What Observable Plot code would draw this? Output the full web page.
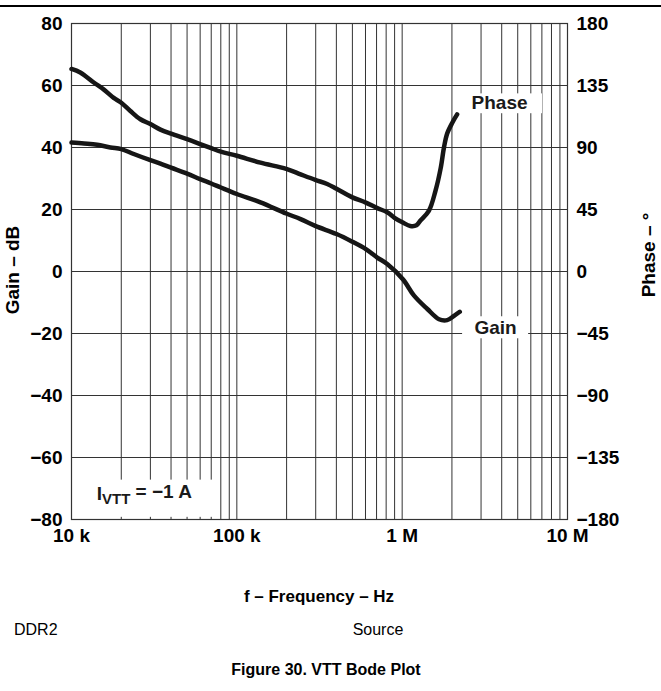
<!DOCTYPE html>
<html><head><meta charset="utf-8">
<script src="https://cdn.jsdelivr.net/npm/d3@7"></script>
<script src="https://cdn.jsdelivr.net/npm/@observablehq/plot@0.6"></script>
<style>
body{margin:0;background:#fff;font-family:"Liberation Sans",Arial,sans-serif;color:#000;}
#wrap{position:relative;width:661px;height:691px;overflow:hidden;background:#fff;}
#rule{position:absolute;left:0;top:5px;width:661px;height:1.5px;background:#000;z-index:2;}
#chart{position:absolute;left:0;top:0;}
.t{position:absolute;white-space:nowrap;line-height:1;}
#ytitle{left:12px;top:270px;transform:translate(-50%,-50%) rotate(-90deg);font-weight:bold;font-size:19px;}
#y2title{left:648px;top:255px;transform:translate(-50%,-50%) rotate(-90deg);font-weight:bold;font-size:19px;}
#xlabel{left:319px;top:596px;transform:translate(-50%,-50%);font-weight:bold;font-size:17px;}
#ddr2{left:14px;top:630px;transform:translate(0,-50%);font-size:16px;}
#source{left:378px;top:630px;transform:translate(-50%,-50%);font-size:16px;}
#caption{left:326px;top:670px;transform:translate(-50%,-50%);font-weight:bold;font-size:16px;}
</style></head><body>
<div id="wrap">
<div id="chart"></div>
<div id="rule"></div>
<div class="t" id="ytitle">Gain – dB</div>
<div class="t" id="y2title">Phase – °</div>
<div class="t" id="xlabel">f – Frequency – Hz</div>
<div class="t" id="ddr2">DDR2</div>
<div class="t" id="source">Source</div>
<div class="t" id="caption">Figure 30. VTT Bode Plot</div>
</div>
<script>
// Gain curve (dB)
const gainFreq = [10e3, 11.9e3, 14.3e3, 17.2e3, 20e3, 23.8e3, 30e3, 34.5e3, 40e3, 50e3, 60e3, 70e3, 80e3, 100e3, 139e3, 199e3, 243e3, 298e3, 401e3, 496e3, 603e3, 707e3, 812e3, 1.01e6, 1.18e6, 1.42e6, 1.67e6, 1.87e6, 2.06e6, 2.23e6];
const gainDb   = [41.6, 41.3, 40.9, 40.0, 39.5, 37.9, 35.9, 34.8, 33.5, 31.6, 29.8, 28.4, 27.1, 25.0, 22.3, 18.7, 16.9, 14.7, 12.1, 9.7, 7.2, 4.5, 2.4, -2.5, -7.8, -12.1, -15.4, -15.7, -14.3, -13.0];
// Phase curve (degrees)
const phaseFreq = [10e3, 11.3e3, 13.7e3, 15.7e3, 18e3, 20e3, 22.7e3, 26.1e3, 30e3, 34.5e3, 40e3, 50e3, 60e3, 70e3, 80e3, 100e3, 139e3, 199e3, 243e3, 298e3, 352e3, 401e3, 496e3, 603e3, 707e3, 812e3, 899e3, 1.01e6, 1.12e6, 1.22e6, 1.29e6, 1.45e6, 1.59e6, 1.71e6, 1.79e6, 1.87e6, 2.01e6, 2.15e6];
const phaseDeg  = [147, 144.5, 137, 132, 126, 122.5, 116.5, 110.5, 107, 103, 100, 96, 92.5, 89.5, 87, 84, 79, 74.5, 70.5, 66.5, 63.5, 60, 54, 50, 46, 43, 39, 35.5, 33, 33.5, 37, 44, 58.5, 75, 90, 100, 108, 114];

// Axis ticks and labels
const gainTicks = [80, 60, 40, 20, 0, -20, -40, -60, -80];
const gainTickLabels = ["80", "60", "40", "20", "0", "−20", "−40", "−60", "−80"];
const phaseTickLabels = ["180", "135", "90", "45", "0", "−45", "−90", "−135", "−180"];
const xTicks = [1e4, 1e5, 1e6, 1e7];
const xTickLabels = ["10 k", "100 k", "1 M", "10 M"];
const gridFreqs = [1,2,3,4,5,6,7,8,9].flatMap(m => [1e4, 1e5, 1e6].map(e => m * e)).concat([1e7]);

// Annotations (gain-axis units)
const curveLabels = [
  {text: "Phase", f: 3.88e6, v: 54.4},
  {text: "Gain", f: 3.67e6, v: -18.2}
];
const condLabel = [{text: "IVTT = −1 A", f: 14.2e3, v: -71.6}];
const boxes = [
  {f1: 2.42e6, f2: 7.06e6, v1: 50.9, v2: 57.3},
  {f1: 2.32e6, f2: 5.82e6, v1: -21.7, v2: -14.6},
  {f1: 1e4, f2: 75e3, v1: -79.3, v2: -67.3}
];

const gainRows = gainFreq.map((f, i) => ({f, v: gainDb[i]}));
const phaseRows = phaseFreq.map((f, i) => ({f, v: phaseDeg[i] * 80 / 180}));

const font = "Liberation Sans, Arial, sans-serif";
const gridColor = "#333";
const plot = Plot.plot({
  width: 661, height: 560,
  marginLeft: 71, marginRight: 94, marginTop: 23, marginBottom: 41,
  x: {type: "log", domain: [1e4, 1e7]},
  y: {domain: [-80, 80]},
  style: {fontFamily: font, fontSize: "19px", fontWeight: "bold", color: "#000", background: "#fff", overflow: "visible"},
  marks: [
    Plot.ruleX(gridFreqs, {stroke: gridColor, strokeWidth: 1}),
    Plot.ruleY(gainTicks, {stroke: gridColor, strokeWidth: 1}),
    Plot.rect(boxes, {x1: "f1", x2: "f2", y1: "v1", y2: "v2", fill: "white"}),
    Plot.frame({stroke: gridColor, strokeWidth: 1.2}),
    Plot.line(gainRows, {x: "f", y: "v", stroke: "#161616", strokeWidth: 4.5, curve: "catmull-rom"}),
    Plot.line(phaseRows, {x: "f", y: "v", stroke: "#161616", strokeWidth: 4.5, curve: "catmull-rom"}),
    Plot.text(curveLabels, {x: "f", y: "v", text: "text", textAnchor: "middle", fontSize: 19, fontWeight: "bold", fill: "#1a1a1a"}),
    Plot.text(condLabel, {x: "f", y: "v", text: "text", textAnchor: "start", fontSize: 19, fontWeight: "bold", fill: "#1a1a1a"}),
    Plot.axisX(xTicks, {anchor: "bottom", tickSize: 0, tickPadding: 9, tickFormat: d => xTickLabels[xTicks.indexOf(d)], fontSize: 19, fontWeight: "bold", label: null}),
    Plot.axisY(gainTicks, {anchor: "left", tickSize: 0, tickPadding: 9, tickFormat: d => gainTickLabels[gainTicks.indexOf(d)], fontSize: 19, fontWeight: "bold", label: null}),
    Plot.axisY(gainTicks, {anchor: "right", tickSize: 0, tickPadding: 9, tickFormat: d => phaseTickLabels[gainTicks.indexOf(d)], fontSize: 19, fontWeight: "bold", label: null})
  ]
});
document.getElementById("chart").appendChild(plot);

// subscript for I_VTT
d3.select(plot).selectAll("text").each(function() {
  if (this.textContent === "IVTT = −1 A") {
    const t = d3.select(this);
    t.text(null);
    t.append("tspan").text("I");
    t.append("tspan").attr("dy", "0.3em").attr("font-size", "15px").text("VTT");
    t.append("tspan").attr("dy", "-0.3em").text(" = −1 A");
  }
});
</script>
</body></html>
